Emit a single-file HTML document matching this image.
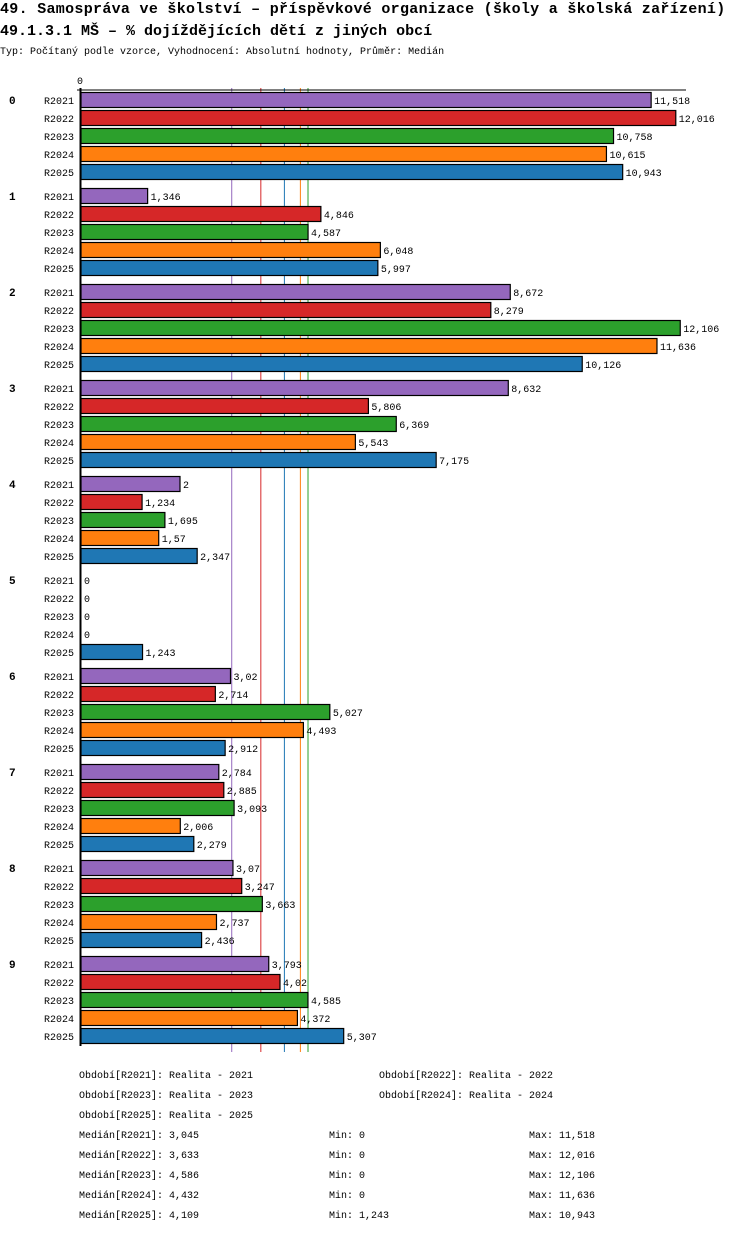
<!DOCTYPE html>
<html><head><meta charset="utf-8"><style>
body{margin:0;background:#fff;width:750px;height:1232px;overflow:hidden}
svg text{font-family:"Liberation Mono",monospace}
</style></head><body>
<svg id="c" width="750" height="1232" xmlns="http://www.w3.org/2000/svg">
<text x="0" y="13" font-size="15" font-weight="bold" letter-spacing="0.3">49. Samospráva ve školství – příspěvkové organizace (školy a školská zařízení)</text>
<text x="0" y="35" font-size="15" font-weight="bold">49.1.3.1 MŠ – % dojíždějících dětí z jiných obcí</text>
<text x="0" y="54" font-size="10">Typ: Počítaný podle vzorce, Vyhodnocení: Absolutní hodnoty, Průměr: Medián</text>
<g id="g"></g>
</svg>
<script>
const categories=["0","1","2","3","4","5","6","7","8","9"];
const series=["R2021","R2022","R2023","R2024","R2025"];
const colors=["#9467bd","#d62728","#2ca02c","#ff7f0e","#1f77b4"];
const v2021=[11.518,1.346,8.672,8.632,2,0,3.02,2.784,3.07,3.793];
const v2022=[12.016,4.846,8.279,5.806,1.234,0,2.714,2.885,3.247,4.02];
const v2023=[10.758,4.587,12.106,6.369,1.695,0,5.027,3.093,3.663,4.585];
const v2024=[10.615,6.048,11.636,5.543,1.57,0,4.493,2.006,2.737,4.372];
const v2025=[10.943,5.997,10.126,7.175,2.347,1.243,2.912,2.279,2.436,5.307];
const medians=[3.045,3.633,4.586,4.432,4.109];
const mins=[0,0,0,0,1.243];
const maxs=[11.518,12.016,12.106,11.636,10.943];
const labels=["Realita - 2021","Realita - 2022","Realita - 2023","Realita - 2024","Realita - 2025"];
const vals=[v2021,v2022,v2023,v2024,v2025];
const NS="http://www.w3.org/2000/svg",g=document.getElementById('g');
const x=v=>81+v*49.5;
const y=(c,s)=>92+c*96+s*18;
const fmt=v=>String(v).replace('.',',');
function el(t,a,txt){const e=document.createElementNS(NS,t);for(const k in a)e.setAttribute(k,a[k]);if(txt!==undefined)e.textContent=txt;g.appendChild(e);return e;}
let e=el('text',{x:77,y:84,'font-size':10},'0');

medians.forEach((m,i)=>{let l=el('line',{x1:x(m),x2:x(m),y1:88,y2:1052,stroke:colors[i],'stroke-width':1});
 });
categories.forEach((c,ci)=>{
 let t=el('text',{x:9,y:y(ci,0)+12,'font-size':11,'font-weight':'bold'},c);
 
 series.forEach((s,si)=>{
  const v=vals[si][ci],yy=y(ci,si);
  let l=el('text',{x:44,y:yy+12,'font-size':10},s);
  
  if(v>0){let r=el('rect',{x:81,y:yy+0.5,width:x(v)-81,height:15,fill:colors[si],stroke:'#000','stroke-width':1.2});
   }
  let vt=el('text',{x:x(v)+3,y:yy+12,'font-size':10},fmt(v));
  
 });
});
let ax=el('line',{x1:80.5,x2:80.5,y1:88,y2:1046,stroke:'#000','stroke-width':2});

let tx=el('line',{x1:77,x2:686,y1:90,y2:90,stroke:'#000','stroke-width':1});

series.forEach((s,i)=>{
 let t=el('text',{x:i%2?379:79,y:1078+Math.floor(i/2)*20,'font-size':10},'Období['+s+']: '+labels[i]);
 
 const yy=1138+i*20;
 let a=el('text',{x:79,y:yy,'font-size':10},'Medián['+s+']: '+fmt(medians[i]));
 
 let b=el('text',{x:329,y:yy,'font-size':10},'Min: '+fmt(mins[i]));
 
 let d=el('text',{x:529,y:yy,'font-size':10},'Max: '+fmt(maxs[i]));
 
});
</script>
</body></html>
